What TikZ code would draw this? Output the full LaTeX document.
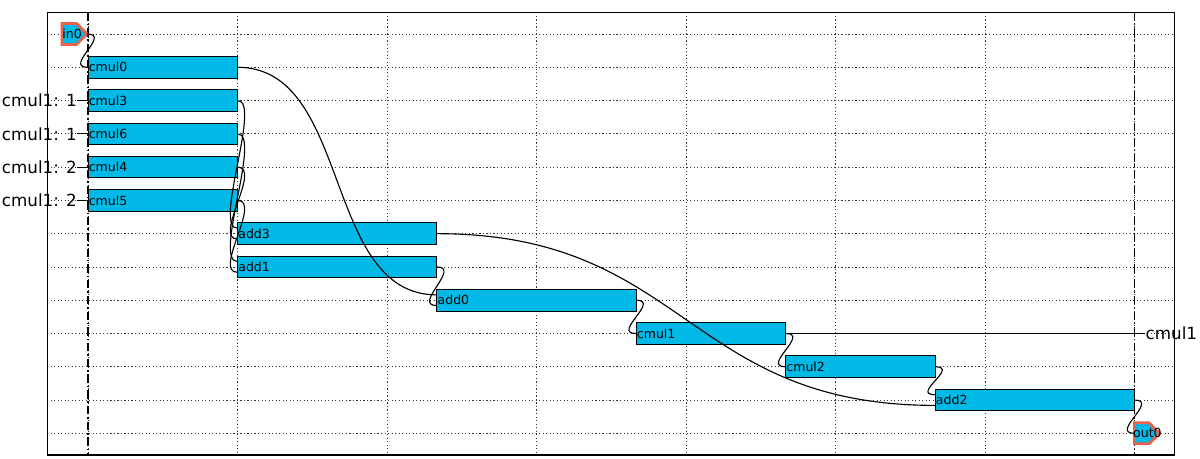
\documentclass[tikz,border=0pt]{standalone}
\usepackage{fontspec}
\setmainfont{DejaVu Sans}
\usetikzlibrary{shapes.symbols}

\definecolor{opblue}{RGB}{0,185,230}
\definecolor{portred}{RGB}{232,98,76}

\begin{document}
\begin{tikzpicture}[x=1.2458cm, y=-0.832cm,
		gridline/.style={black!80, line width=0.5pt, dash pattern=on 0.8pt off 1.7pt},
		boundline/.style={black, line width=0.9pt, dash pattern=on 6pt off 2pt on 1.2pt off 2pt},
		op/.style={draw, line width=0.7pt, fill=opblue, anchor=west, outer sep=0pt,
				inner xsep=0.6pt, inner ysep=0pt, minimum height=0.541cm, align=left,
				font=\fontsize{8.9}{10}\selectfont},
		mulop/.style={op, text width=3.695cm},
		addop/.style={op, text width=4.941cm},
		port/.style={signal, signal to=east, signal pointer angle=90,
				draw=portred, line width=2pt, fill=opblue,
				minimum width=0.625cm, minimum height=0.525cm,
				inner sep=0pt, outer sep=0pt},
		portname/.style={inner sep=0pt, font=\fontsize{8.9}{10}\selectfont},
		feed/.style={inner sep=0pt, font=\fontsize{11.9}{13}\selectfont},
		wire/.style={line width=0.8pt}]
	\useasboundingbox (-1.766,-1.0216) rectangle (22.316,12.77);

	% grid and frame
	\foreach \c in {0,3,...,21}
		\draw[gridline] (\c,-0.65) -- (\c,12.65);
	\foreach \r in {0,...,12}
		\draw[gridline] (-0.82,\r) -- (21.8,\r);
	\draw[boundline] (0,-0.65) -- (0,12.65);
	\draw[boundline] (21,-0.65) -- (21,12.65);
	\draw[line width=0.9pt] (-0.82,-0.65) rectangle (21.8,12.65);

	% operations
	\node[mulop] (cmul0) at (0,1) {cmul0};
	\node[mulop] (cmul3) at (0,2) {cmul3};
	\node[mulop] (cmul6) at (0,3) {cmul6};
	\node[mulop] (cmul4) at (0,4) {cmul4};
	\node[mulop] (cmul5) at (0,5) {cmul5};
	\node[addop] (add3) at (3,6) {add3};
	\node[addop] (add1) at (3,7) {add1};
	\node[addop] (add0) at (7,8) {add0};
	\node[mulop] (cmul1) at (11,9) {cmul1};
	\node[mulop] (cmul2) at (14,10) {cmul2};
	\node[addop] (add2) at (17,11) {add2};

	% ports
	\node[port, anchor=east] (in0) at (-0.02,0) {};
	\node[portname] (in0name) at (-0.32,0) {in0};
	\node[port, anchor=west] (out0) at (21,12) {};
	\node[portname] (out0name) at (21.26,12) {out0};

	% values from the previous iteration
	\foreach \n/\r/\d in {3/2/1, 6/3/1, 4/4/2, 5/5/2} {
		\node[feed, anchor=east] (feed\n) at (-0.22,\r) {cmul1: \d};
		\draw[wire] (feed\n.east) -- (cmul\n.west);
	}
	\node[feed, anchor=west] (cmul1next) at (21.22,9) {cmul1};
	\draw[wire] (cmul1.east) -- (cmul1next.west);

	% wires
	\foreach \a/\b/\s in {in0/cmul0/0pt, add0/cmul1/0pt, cmul1/cmul2/0pt,
			cmul3/add3/3.8pt, cmul4/add3/-3.8pt, cmul6/add1/3.8pt, cmul5/add1/-3.8pt,
			add1/add0/-3.8pt, cmul2/add2/3.8pt, add2/out0/0pt}
		\draw[wire] (\a.east) .. controls +(0.5,0) and +(-0.5,0) .. ([yshift=\s]\b.west);
	\draw[wire] (cmul0.east) .. controls +(2.3,0) and +(-2.3,0) .. ([yshift=3.8pt]add0.west);
	\draw[wire] (add3.east) .. controls +(5,0) and +(-5,0) .. ([yshift=-3.8pt]add2.west);
\end{tikzpicture}
\end{document}
